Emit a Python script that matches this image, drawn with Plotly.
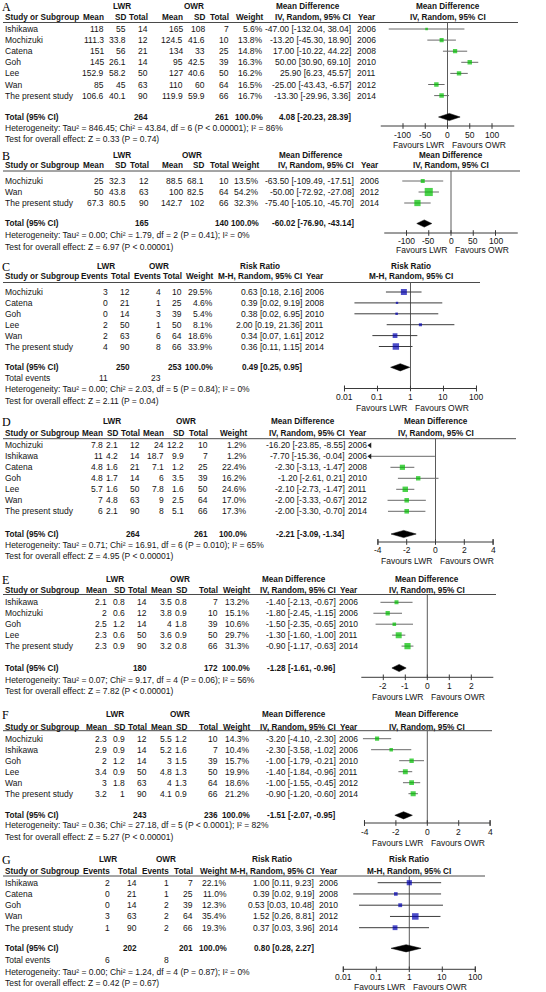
import math
import plotly.graph_objects as go

W, H = 546, 992

# ======================= DATA =======================
# ---- A : Mean Difference ----
a_study = ["Ishikawa", "Mochizuki", "Catena", "Goh", "Lee", "Wan", "The present study"]
a_lwr_mean = [118, 111.3, 151, 145, 152.9, 85, 106.6]
a_lwr_sd = [55, 33.8, 56, 26.1, 58.2, 45, 40.1]
a_lwr_n = [14, 12, 21, 14, 50, 63, 90]
a_owr_mean = [165, 124.5, 134, 95, 127, 110, 119.9]
a_owr_sd = [108, 41.6, 33, 42.5, 40.6, 60, 59.9]
a_owr_n = [7, 10, 25, 39, 50, 64, 66]
a_weight = [5.6, 13.8, 14.8, 16.3, 16.2, 16.5, 16.7]
a_est = [-47.00, -13.20, 17.00, 50.00, 25.90, -25.00, -13.30]
a_lo = [-132.04, -45.30, -10.22, 30.90, 6.23, -43.43, -29.96]
a_hi = [38.04, 18.90, 44.22, 69.10, 45.57, -6.57, 3.36]
a_year = [2006, 2006, 2008, 2010, 2011, 2012, 2014]
a_total_n = [264, 261]
a_pooled = [4.08, -20.23, 28.39]
a_het = "Heterogeneity: Tau² = 846.45; Chi² = 43.84, df = 6 (P < 0.00001); I² = 86%"
a_test = "Test for overall effect: Z = 0.33 (P = 0.74)"
a_ticks = [-100, -50, 0, 50, 100]

# ---- B : Mean Difference ----
b_study = ["Mochizuki", "Wan", "The present study"]
b_lwr_mean = [25, 50, 67.3]
b_lwr_sd = [32.3, 43.8, 80.5]
b_lwr_n = [12, 63, 90]
b_owr_mean = [88.5, 100, 142.7]
b_owr_sd = [68.1, 82.5, 102]
b_owr_n = [10, 64, 66]
b_weight = [13.5, 54.2, 32.3]
b_est = [-63.50, -50.00, -75.40]
b_lo = [-109.49, -72.92, -105.10]
b_hi = [-17.51, -27.08, -45.70]
b_year = [2006, 2012, 2014]
b_total_n = [165, 140]
b_pooled = [-60.02, -76.90, -43.14]
b_het = "Heterogeneity: Tau² = 0.00; Chi² = 1.79, df = 2 (P = 0.41); I² = 0%"
b_test = "Test for overall effect: Z = 6.97 (P < 0.00001)"
b_ticks = [-100, -50, 0, 50, 100]

# ---- C : Risk Ratio ----
c_study = ["Mochizuki", "Catena", "Goh", "Lee", "Wan", "The present study"]
c_lwr_events = [3, 0, 0, 2, 2, 4]
c_lwr_n = [12, 21, 14, 50, 63, 90]
c_owr_events = [4, 1, 3, 1, 6, 8]
c_owr_n = [10, 25, 39, 50, 64, 66]
c_weight = [29.5, 4.6, 5.4, 8.1, 18.6, 33.9]
c_est = [0.63, 0.39, 0.38, 2.00, 0.34, 0.36]
c_lo = [0.18, 0.02, 0.02, 0.19, 0.07, 0.11]
c_hi = [2.16, 9.19, 6.95, 21.36, 1.61, 1.15]
c_year = [2006, 2008, 2010, 2011, 2012, 2014]
c_total_n = [250, 253]
c_total_events = [11, 23]
c_pooled = [0.49, 0.25, 0.95]
c_het = "Heterogeneity: Tau² = 0.00; Chi² = 2.03, df = 5 (P = 0.84); I² = 0%"
c_test = "Test for overall effect: Z = 2.11 (P = 0.04)"
c_ticks = [0.01, 0.1, 1, 10, 100]
c_ticklabels = ["0.01", "0.1", "1", "10", "100"]

# ---- D : Mean Difference ----
d_study = ["Mochizuki", "Ishikawa", "Catena", "Goh", "Lee", "Wan", "The present study"]
d_lwr_mean = [7.8, 11, 4.8, 4.8, 5.7, 7, 6]
d_lwr_sd = [2.1, 4.2, 1.6, 1.7, 1.6, 4.8, 2.1]
d_lwr_n = [12, 14, 21, 14, 50, 63, 90]
d_owr_mean = [24, 18.7, 7.1, 6, 7.8, 9, 8]
d_owr_sd = [12.2, 9.9, 1.2, 3.5, 1.6, 2.5, 5.1]
d_owr_n = [10, 7, 25, 39, 50, 64, 66]
d_weight = [1.2, 1.2, 22.4, 16.2, 24.6, 17.0, 17.3]
d_est = [-16.20, -7.70, -2.30, -1.20, -2.10, -2.00, -2.00]
d_lo = [-23.85, -15.36, -3.13, -2.61, -2.73, -3.33, -3.30]
d_hi = [-8.55, -0.04, -1.47, 0.21, -1.47, -0.67, -0.70]
d_year = [2006, 2006, 2008, 2010, 2011, 2012, 2014]
d_total_n = [264, 261]
d_pooled = [-2.21, -3.09, -1.34]
d_het = "Heterogeneity: Tau² = 0.71; Chi² = 16.91, df = 6 (P = 0.010); I² = 65%"
d_test = "Test for overall effect: Z = 4.95 (P < 0.00001)"
d_ticks = [-4, -2, 0, 2, 4]

# ---- E : Mean Difference ----
e_study = ["Ishikawa", "Mochizuki", "Goh", "Lee", "The present study"]
e_lwr_mean = [2.1, 2, 2.5, 2.3, 2.3]
e_lwr_sd = [0.8, 0.6, 1.2, 0.6, 0.9]
e_lwr_n = [14, 12, 14, 50, 90]
e_owr_mean = [3.5, 3.8, 4, 3.6, 3.2]
e_owr_sd = [0.8, 0.9, 1.8, 0.9, 0.8]
e_owr_n = [7, 10, 39, 50, 66]
e_weight = [13.2, 15.1, 10.6, 29.7, 31.3]
e_est = [-1.40, -1.80, -1.50, -1.30, -0.90]
e_lo = [-2.13, -2.45, -2.35, -1.60, -1.17]
e_hi = [-0.67, -1.15, -0.65, -1.00, -0.63]
e_year = [2006, 2006, 2010, 2011, 2014]
e_total_n = [180, 172]
e_pooled = [-1.28, -1.61, -0.96]
e_het = "Heterogeneity: Tau² = 0.07; Chi² = 9.17, df = 4 (P = 0.06); I² = 56%"
e_test = "Test for overall effect: Z = 7.82 (P < 0.00001)"
e_ticks = [-2, -1, 0, 1, 2]

# ---- F : Mean Difference ----
f_study = ["Mochizuki", "Ishikawa", "Goh", "Lee", "Wan", "The present study"]
f_lwr_mean = [2.3, 2.9, 2, 3.4, 3, 3.2]
f_lwr_sd = [0.9, 0.9, 1.2, 0.9, 1.8, 1]
f_lwr_n = [12, 14, 14, 50, 63, 90]
f_owr_mean = [5.5, 5.2, 3, 4.8, 4, 4.1]
f_owr_sd = [1.2, 1.6, 1.5, 1.3, 1.3, 0.9]
f_owr_n = [10, 7, 39, 50, 64, 66]
f_weight = [14.3, 10.4, 15.7, 19.9, 18.6, 21.2]
f_est = [-3.20, -2.30, -1.00, -1.40, -1.00, -0.90]
f_lo = [-4.10, -3.58, -1.79, -1.84, -1.55, -1.20]
f_hi = [-2.30, -1.02, -0.21, -0.96, -0.45, -0.60]
f_year = [2006, 2006, 2010, 2011, 2012, 2014]
f_total_n = [243, 236]
f_pooled = [-1.51, -2.07, -0.95]
f_het = "Heterogeneity: Tau² = 0.36; Chi² = 27.18, df = 5 (P < 0.0001); I² = 82%"
f_test = "Test for overall effect: Z = 5.27 (P < 0.00001)"
f_ticks = [-4, -2, 0, 2, 4]

# ---- G : Risk Ratio ----
g_study = ["Ishikawa", "Catena", "Goh", "Wan", "The present study"]
g_lwr_events = [2, 0, 0, 3, 1]
g_lwr_n = [14, 21, 14, 63, 90]
g_owr_events = [1, 1, 2, 2, 2]
g_owr_n = [7, 25, 39, 64, 66]
g_weight = [22.1, 11.0, 12.3, 35.4, 19.3]
g_est = [1.00, 0.39, 0.53, 1.52, 0.37]
g_lo = [0.11, 0.02, 0.03, 0.26, 0.03]
g_hi = [9.23, 9.19, 10.48, 8.81, 3.96]
g_year = [2006, 2008, 2010, 2012, 2014]
g_total_n = [202, 201]
g_total_events = [6, 8]
g_pooled = [0.80, 0.28, 2.27]
g_het = "Heterogeneity: Tau² = 0.00; Chi² = 1.24, df = 4 (P = 0.87); I² = 0%"
g_test = "Test for overall effect: Z = 0.42 (P = 0.67)"
g_ticks = [0.01, 0.1, 1, 10, 100]
g_ticklabels = ["0.01", "0.1", "1", "10", "100"]

group_labels = ["LWR", "OWR"]
favours = ["Favours LWR", "Favours OWR"]

# ======================= STYLE =======================
FONT = "Liberation Sans, Arial, sans-serif"
SERIF = "Liberation Serif, Times New Roman, serif"
FS = 8.5        # regular text
FSB = 8.2       # bold text
TXT = "#141414"
GREEN = "#00c000"
BLUE = "#0000b0"


def num(v):
    return f"{v:g}"


def ci(e, l, h):
    return f"{e:.2f} [{l:.2f}, {h:.2f}]"


def rows_from(first, step, n):
    return [first + step * i for i in range(n)]


def md(s, lm, lsd, ln, om, osd, on, w, e, lo, hi, yr, tn, pooled, het, test, ticks):
    return dict(
        kind="md", study=s,
        cols=[[num(v) for v in lm], [num(v) for v in lsd], [str(v) for v in ln],
              [num(v) for v in om], [num(v) for v in osd], [str(v) for v in on],
              [f"{v:.1f}%" for v in w], [ci(a, b, c) for a, b, c in zip(e, lo, hi)],
              [str(v) for v in yr]],
        w=w, est=e, lo=lo, hi=hi, tn=tn, pooled=pooled, het=het, test=test,
        ticks=ticks, ticklabels=[num(t) for t in ticks])


def rr(s, le, ln, oe, on, w, e, lo, hi, yr, tn, tev, pooled, het, test, ticks, tl):
    return dict(
        kind="rr", study=s,
        cols=[[str(v) for v in le], [str(v) for v in ln], [str(v) for v in oe], [str(v) for v in on],
              [f"{v:.1f}%" for v in w], [ci(a, b, c) for a, b, c in zip(e, lo, hi)],
              [str(v) for v in yr]],
        w=w, est=e, lo=lo, hi=hi, tn=tn, tev=tev, pooled=pooled, het=het, test=test,
        ticks=ticks, ticklabels=tl)


panels = [
    dict(letter="A", **md(a_study, a_lwr_mean, a_lwr_sd, a_lwr_n, a_owr_mean, a_owr_sd, a_owr_n,
                          a_weight, a_est, a_lo, a_hi, a_year, a_total_n, a_pooled, a_het, a_test, a_ticks),
         y=dict(h1=6, h2=17, line=22.5, total=117, het=128, test=139, axis=126, tick=134.5, fav=145),
         rows=rows_from(29, 11.1, 7),
         colx=[104, 126, 148, 183, 205, 229, 263, 351, 376], g=[122, 194], effc=308, line_end=518,
         zero=447.5, scale=0.445, view=[-162, 162], axline=[-150, 150], endticks=False),
    dict(letter="B", **md(b_study, b_lwr_mean, b_lwr_sd, b_lwr_n, b_owr_mean, b_owr_sd, b_owr_n,
                          b_weight, b_est, b_lo, b_hi, b_year, b_total_n, b_pooled, b_het, b_test, b_ticks),
         y=dict(h1=155, h2=165.5, line=171, total=223.5, het=235, test=246.5, axis=233, tick=241, fav=250),
         rows=rows_from(181, 11, 3),
         colx=[104, 126, 149, 183, 204, 229, 259, 354, 379], g=[122, 192], effc=311, line_end=520,
         zero=451, scale=0.445, view=[-162, 162], axline=[-150, 150], endticks=False),
    dict(letter="C", **rr(c_study, c_lwr_events, c_lwr_n, c_owr_events, c_owr_n, c_weight, c_est, c_lo,
                          c_hi, c_year, c_total_n, c_total_events, c_pooled, c_het, c_test, c_ticks, c_ticklabels),
         y=dict(h1=266, h2=276, line=282.5, total=367.3, tev=378.3, het=389.3, test=400.5, axis=388.5,
                tick=396.5, fav=407.5),
         rows=rows_from(292, 10.9, 6),
         colx=[108, 130, 161, 182, 213, 302, 324], g=[106, 159], effc=260, line_end=480,
         zero=410.5, scale=33.0, view=[0.006, 160], axline=[0.01, 100], endticks=True),
    dict(letter="D", **md(d_study, d_lwr_mean, d_lwr_sd, d_lwr_n, d_owr_mean, d_owr_sd, d_owr_n,
                          d_weight, d_est, d_lo, d_hi, d_year, d_total_n, d_pooled, d_het, d_test, d_ticks),
         y=dict(h1=421.5, h2=433, line=438.7, total=534, het=544.5, test=556, axis=542, tick=549.5, fav=560.5),
         rows=rows_from(445.3, 11, 7),
         colx=[103, 118, 140, 164, 184, 208, 247, 345, 367], g=[112, 186], effc=303, line_end=516,
         zero=435.5, scale=14.4, view=[-4.9, 4.9], axline=[-4, 4], endticks=True, arrow_at=-4.55),
    dict(letter="E", **md(e_study, e_lwr_mean, e_lwr_sd, e_lwr_n, e_owr_mean, e_owr_sd, e_owr_n,
                          e_weight, e_est, e_lo, e_hi, e_year, e_total_n, e_pooled, e_het, e_test, e_ticks),
         y=dict(h1=579, h2=590.5, line=594.5, total=668, het=680, test=690.7, axis=677.3, tick=686, fav=696.5),
         rows=rows_from(602.3, 10.95, 5),
         colx=[107, 125, 147, 172, 187, 218, 250, 336, 358], g=[115, 180], effc=294, line_end=496,
         zero=427.3, scale=22.0, view=[-3.3, 3.3], axline=[-3, 3], endticks=False),
    dict(letter="F", **md(f_study, f_lwr_mean, f_lwr_sd, f_lwr_n, f_owr_mean, f_owr_sd, f_owr_n,
                          f_weight, f_est, f_lo, f_hi, f_year, f_total_n, f_pooled, f_het, f_test, f_ticks),
         y=dict(h1=714.7, h2=727.3, line=730.7, total=815.3, het=825, test=837.3, axis=823, tick=832, fav=843),
         rows=rows_from(738.7, 11, 6),
         colx=[107, 125, 147, 172, 187, 218, 250, 336, 358], g=[115, 180], effc=294, line_end=492,
         zero=427.3, scale=15.7, view=[-4.5, 4.5], axline=[-4, 4], endticks=True),
    dict(letter="G", **rr(g_study, g_lwr_events, g_lwr_n, g_owr_events, g_owr_n, g_weight, g_est, g_lo,
                          g_hi, g_year, g_total_n, g_total_events, g_pooled, g_het, g_test, g_ticks, g_ticklabels),
         y=dict(h1=859.5, h2=871.7, line=876, total=948.3, tev=960, het=971.7, test=982.5, axis=969.3,
                tick=977, fav=986.5),
         rows=rows_from(882.7, 11.25, 5),
         colx=[110, 137, 169, 193, 227, 314, 338], g=[108, 166], effc=272, line_end=485,
         zero=409.3, scale=33.0, view=[0.006, 160], axline=[0.01, 100], endticks=True),
]

fig = go.Figure()
ann = []


def text(x, y, s, anchor="left", bold=False, size=None, xref="x", family=FONT, color=TXT):
    if size is None:
        size = FSB if bold else FS
    if bold:
        s = f"<b>{s}</b>"
    ann.append(dict(x=x, y=y, xref=xref, yref="y", text=s, showarrow=False, xanchor=anchor,
                    yanchor="middle", borderpad=0, borderwidth=0,
                    font=dict(family=family, size=size, color=color)))


def seg_trace(xs, ys, color, width, xaxis="x"):
    fig.add_trace(go.Scatter(x=xs, y=ys, mode="lines", xaxis=xaxis, yaxis="y",
                             line=dict(color=color, width=width), hoverinfo="skip", showlegend=False))


layout_axes = {}
for k, P in enumerate(panels):
    ax_id = f"x{k + 2}"
    ax_name = f"xaxis{k + 2}"
    log = P["kind"] == "rr"
    z, sc = P["zero"], P["scale"]
    if log:
        px = lambda v, z=z, sc=sc: z + sc * math.log10(v)
        rng = [math.log10(P["view"][0]), math.log10(P["view"][1])]
        apos = lambda v: math.log10(v)          # annotation coordinate on a log axis
    else:
        px = lambda v, z=z, sc=sc: z + sc * v
        rng = P["view"]
        apos = lambda v: v
    layout_axes[ax_name] = dict(domain=[px(P["view"][0]) / W, px(P["view"][1]) / W], range=rng,
                                type="log" if log else "linear", anchor="y", visible=False,
                                fixedrange=True)
    Y = P["y"]
    eff = "Risk Ratio" if log else "Mean Difference"
    method = "M-H, Random, 95% CI" if log else "IV, Random, 95% CI"
    hdrs = (["Events", "Total", "Events", "Total", "Weight", method, "Year"] if log else
            ["Mean", "SD", "Total", "Mean", "SD", "Total", "Weight", method, "Year"])

    # ---- table ----
    text(2, Y["h1"] + 0.5, P["letter"], size=12, family=SERIF, color="#000")
    text(P["g"][0], Y["h1"], group_labels[0], anchor="center", bold=True)
    text(P["g"][1], Y["h1"], group_labels[1], anchor="center", bold=True)
    text(P["effc"], Y["h1"], eff, anchor="center", bold=True)
    text(5, Y["h2"], "Study or Subgroup", bold=True)
    for xr, hd in zip(P["colx"], hdrs):
        text(xr, Y["h2"], hd, anchor="right", bold=True)
    text(z, Y["h1"], eff, anchor="center", bold=True)
    text(z, Y["h2"], method, anchor="center", bold=True)
    seg_trace([3, P["line_end"]], [Y["line"], Y["line"]], "#4a4a4a", 1)

    for i, s in enumerate(P["study"]):
        yy = P["rows"][i]
        text(5, yy, s)
        for xr, col in zip(P["colx"], P["cols"]):
            text(xr, yy, col[i], anchor="right")

    text(5, Y["total"], "Total (95% CI)", bold=True)
    ncol = [1, 3] if log else [2, 5]
    text(P["colx"][ncol[0]], Y["total"], str(P["tn"][0]), anchor="right", bold=True)
    text(P["colx"][ncol[1]], Y["total"], str(P["tn"][1]), anchor="right", bold=True)
    wi = 4 if log else 6
    text(P["colx"][wi], Y["total"], "100.0%", anchor="right", bold=True)
    text(P["colx"][wi + 1], Y["total"], ci(*P["pooled"]), anchor="right", bold=True)
    if log:
        text(5, Y["tev"], "Total events")
        text(P["colx"][0], Y["tev"], str(P["tev"][0]), anchor="right")
        text(P["colx"][2], Y["tev"], str(P["tev"][1]), anchor="right")
    text(5, Y["het"], P["het"])
    text(5, Y["test"], P["test"])

    # ---- forest ----
    ref = 1 if log else 0
    seg_trace([ref, ref], [Y["line"], Y["axis"]], "#5a5a5a", 1, ax_id)
    cix, ciy, arx, ary = [], [], [], []
    lim = P.get("arrow_at")
    for i in range(len(P["study"])):
        lo, hi, yy = P["lo"][i], P["hi"][i], P["rows"][i]
        if lim is not None and lo < lim:
            arx.append(lim)
            ary.append(yy)
            if hi > lim:
                cix += [lim, hi, None]
                ciy += [yy, yy, None]
        else:
            cix += [lo, hi, None]
            ciy += [yy, yy, None]
    seg_trace(cix, ciy, "#3c3c3c" if log else "#6a6a6a", 1, ax_id)
    if arx:
        fig.add_trace(go.Scatter(x=arx, y=ary, mode="markers", xaxis=ax_id, yaxis="y",
                                 marker=dict(symbol="triangle-left", size=5, color="#222"),
                                 hoverinfo="skip", showlegend=False))
    fig.add_trace(go.Scatter(
        x=P["est"], y=P["rows"], mode="markers", xaxis=ax_id, yaxis="y",
        marker=dict(symbol="square", size=[max(2.2, 1.1 * math.sqrt(w)) for w in P["w"]],
                    color=BLUE if log else GREEN, line=dict(width=0)),
        hoverinfo="skip", showlegend=False))
    pe, pl, ph = P["pooled"]
    yt = Y["total"]
    fig.add_trace(go.Scatter(x=[pl, pe, ph, pe, pl], y=[yt, yt - 3.6, yt, yt + 3.6, yt], mode="lines",
                             fill="toself", fillcolor="#000", line=dict(color="#000", width=0.5),
                             xaxis=ax_id, yaxis="y", hoverinfo="skip", showlegend=False))
    ya = Y["axis"]
    tk = P["ticks"] + (P["axline"] if P["endticks"] else [])
    ax_x = [P["axline"][0], P["axline"][1], None]
    ax_y = [ya, ya, None]
    for t in tk:
        ax_x += [t, t, None]
        ax_y += [ya - 2.8, ya + 2.8, None]
    seg_trace(ax_x, ax_y, "#3a3a3a", 1, ax_id)
    for t, lab in zip(P["ticks"], P["ticklabels"]):
        text(apos(t), Y["tick"], lab, anchor="center", xref=ax_id)
    text(z - 4, Y["fav"], favours[0], anchor="right")
    text(z + 4, Y["fav"], favours[1], anchor="left")

fig.update_layout(
    width=W, height=H, autosize=False, margin=dict(l=0, r=0, t=0, b=0, pad=0),
    paper_bgcolor="white", plot_bgcolor="rgba(0,0,0,0)", showlegend=False, hovermode=False,
    xaxis=dict(range=[0, W], domain=[0, 1], visible=False, fixedrange=True),
    yaxis=dict(range=[H, 0], domain=[0, 1], visible=False, fixedrange=True),
    annotations=ann, **layout_axes)

reset_page = ("document.documentElement.style.margin='0';document.body.style.margin='0';"
              "document.body.style.padding='0';document.documentElement.style.overflow='hidden';"
              "document.body.style.overflow='hidden';")
fig.write_html("out.html", config={"displayModeBar": False, "staticPlot": True},
               post_script=reset_page)
